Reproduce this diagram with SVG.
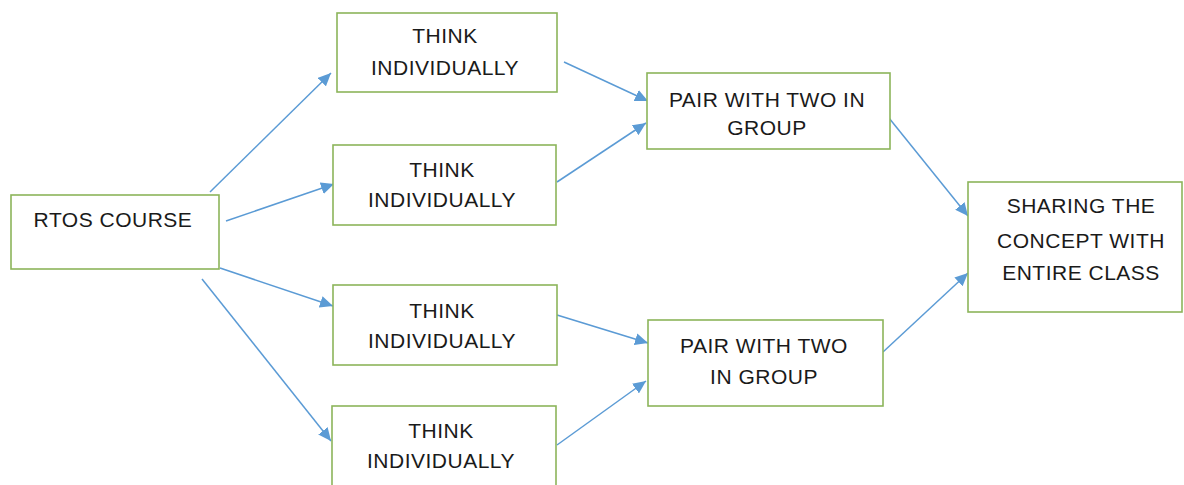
<svg xmlns="http://www.w3.org/2000/svg" width="1184" height="485" viewBox="0 0 1184 485">
  <style>
    .box { fill: #ffffff; stroke: #8cb55a; stroke-width: 1.6; }
    .lbl { font-family: "Liberation Sans", Arial, sans-serif; font-size: 21px; fill: #1a1a1a; text-anchor: middle; letter-spacing: 0.5px; }
    .edge { stroke: #5b9bd5; stroke-width: 1.5; fill: none; marker-end: url(#arrow); }
  </style>
  <defs>
    <marker id="arrow" markerUnits="userSpaceOnUse" markerWidth="14" markerHeight="12" refX="13" refY="6" orient="auto">
      <path d="M0,0 L13,6 L0,12 Z" fill="#5b9bd5"/>
    </marker>
  </defs>
  <rect width="1184" height="485" fill="#ffffff"/>

  <!-- connectors -->
  <g id="connectors">
    <line class="edge" x1="210" y1="192" x2="331" y2="73"/>
    <line class="edge" x1="226" y1="221" x2="334" y2="184"/>
    <line class="edge" x1="220" y1="268" x2="333" y2="306"/>
    <line class="edge" x1="202" y1="279" x2="331" y2="441"/>
    <line class="edge" x1="564" y1="62" x2="648" y2="101"/>
    <line class="edge" x1="557" y1="182" x2="646" y2="123"/>
    <line class="edge" x1="557" y1="315" x2="648" y2="343"/>
    <line class="edge" x1="557" y1="445" x2="646" y2="381"/>
    <line class="edge" x1="889" y1="118" x2="968" y2="216"/>
    <line class="edge" x1="883" y1="352" x2="968" y2="273"/>
  </g>

  <!-- nodes -->
  <g id="rtos-course">
    <rect class="box" x="11" y="195" width="208" height="74"/>
    <text class="lbl" x="113" y="227">RTOS COURSE</text>
  </g>
  <g id="think-1">
    <rect class="box" x="337" y="13" width="220" height="79"/>
    <text class="lbl" x="445" y="43">THINK</text>
    <text class="lbl" x="445" y="75">INDIVIDUALLY</text>
  </g>
  <g id="think-2">
    <rect class="box" x="333" y="145" width="223" height="80"/>
    <text class="lbl" x="442" y="177">THINK</text>
    <text class="lbl" x="442" y="207">INDIVIDUALLY</text>
  </g>
  <g id="think-3">
    <rect class="box" x="333" y="285" width="224" height="80"/>
    <text class="lbl" x="442" y="318">THINK</text>
    <text class="lbl" x="442" y="348">INDIVIDUALLY</text>
  </g>
  <g id="think-4">
    <rect class="box" x="332" y="406" width="224" height="90"/>
    <text class="lbl" x="441" y="438">THINK</text>
    <text class="lbl" x="441" y="468">INDIVIDUALLY</text>
  </g>
  <g id="pair-1">
    <rect class="box" x="647" y="73" width="243" height="76"/>
    <text class="lbl" x="767" y="107">PAIR WITH TWO IN</text>
    <text class="lbl" x="767" y="135">GROUP</text>
  </g>
  <g id="pair-2">
    <rect class="box" x="648" y="320" width="235" height="86"/>
    <text class="lbl" x="764" y="353">PAIR WITH TWO</text>
    <text class="lbl" x="764" y="384">IN GROUP</text>
  </g>
  <g id="sharing">
    <rect class="box" x="968" y="182" width="214" height="130"/>
    <text class="lbl" x="1081" y="213">SHARING THE</text>
    <text class="lbl" x="1081" y="248">CONCEPT WITH</text>
    <text class="lbl" x="1081" y="280">ENTIRE CLASS</text>
  </g>
</svg>
